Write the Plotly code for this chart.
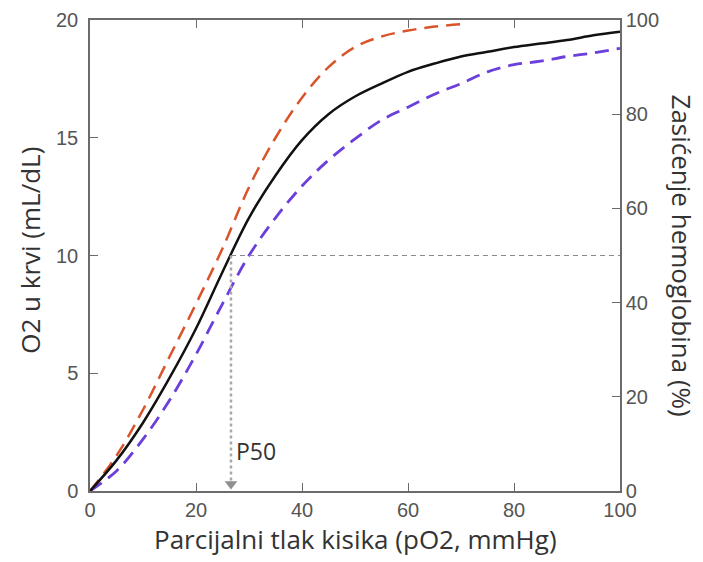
"""Oxygen-hemoglobin dissociation curve (Plotly)."""

import plotly.graph_objects as go

# ── Data ────────────────────────────────────────────────────────────

po2 = [0, 5, 10, 15, 20, 25, 30, 35, 40, 45, 50, 55, 60, 65, 70, 75, 80, 85, 90, 95, 100]
o2_normal = [0, 1.3, 2.9, 4.8, 6.9, 9.3, 11.6, 13.4, 14.9, 16.0, 16.75, 17.3, 17.8,
             18.15, 18.45, 18.65, 18.85, 19.0, 19.15, 19.35, 19.5]

po2_left = [0, 5, 10, 15, 20, 25, 30, 35, 40, 45, 50, 55, 60, 65, 70]
o2_left = [0, 1.5, 3.45, 5.7, 7.95, 10.3, 12.9, 15.0, 16.7, 18.0, 18.85, 19.3, 19.55, 19.72, 19.82]

o2_right = [0, 0.85, 2.2, 3.85, 5.8, 7.95, 10.0, 11.6, 12.95, 14.05, 14.95, 15.75, 16.3,
            16.85, 17.3, 17.8, 18.1, 18.25, 18.45, 18.6, 18.8]

p50 = 26.6
half_o2 = 10

x_ticks = [0, 20, 40, 60, 80, 100]
y_ticks = [0, 5, 10, 15, 20]
y2_ticks = [0, 20, 40, 60, 80, 100]

# ── Style ───────────────────────────────────────────────────────────

AXIS = "#6b6b6b"
TICK_FONT = dict(family="Liberation Sans, Arial, sans-serif", size=20, color="#555555")
TITLE_FONT = dict(family="Open Sans, Noto Sans, sans-serif", size=26, color="#333333")

fig = go.Figure()

fig.add_trace(go.Scatter(
    x=po2_left, y=o2_left, mode="lines",
    line=dict(color="#D9542B", width=2.5, dash="14px,8px", shape="spline"),
    showlegend=False,
))
fig.add_trace(go.Scatter(
    x=po2, y=o2_right, mode="lines",
    line=dict(color="#6B3FDB", width=2.8, dash="14px,8px", shape="spline"),
    showlegend=False,
))
fig.add_trace(go.Scatter(
    x=po2, y=o2_normal, mode="lines",
    line=dict(color="#111111", width=2.5, shape="spline"),
    showlegend=False,
))

# P50 guides
fig.add_trace(go.Scatter(
    x=[p50, 100], y=[half_o2, half_o2], mode="lines",
    line=dict(color="#8a8a8a", width=1, dash="5px,4px"),
    showlegend=False,
))
fig.add_trace(go.Scatter(
    x=[p50, p50], y=[half_o2, 0.35], mode="lines",
    line=dict(color="#a8a8a8", width=2.5, dash="3px,3px"),
    showlegend=False,
))
fig.add_trace(go.Scatter(
    x=[p50], y=[0.3], mode="markers",
    marker=dict(symbol="triangle-down", size=11, color="#8f8f8f"),
    showlegend=False,
))
fig.add_trace(go.Scatter(x=[0], y=[0], yaxis="y2", mode="markers",
                         marker=dict(opacity=0), showlegend=False, hoverinfo="skip"))

fig.add_annotation(
    x=p50, y=1.7, xref="x", yref="y", text="P50", showarrow=False,
    xanchor="left", xshift=3, font=dict(family="Open Sans, sans-serif", size=23, color="#333333"),
)

# Axis titles
fig.add_annotation(
    x=0.5, y=0, xref="x domain", yref="y domain", yshift=-48,
    xanchor="center", yanchor="middle",
    text="Parcijalni tlak kisika (pO2, mmHg)", showarrow=False, font=TITLE_FONT,
)
fig.add_annotation(
    x=0, y=0.51, xref="x domain", yref="y domain", text="O2 u krvi (mL/dL)",
    xanchor="center", yanchor="middle",
    showarrow=False, textangle=-90, xshift=-60, font=TITLE_FONT,
)
fig.add_annotation(
    x=1, y=0.5, xref="x domain", yref="y domain", text="Zasićenje hemoglobina (%)",
    xanchor="center", yanchor="middle",
    showarrow=False, textangle=90, xshift=62, font=TITLE_FONT,
)

fig.update_layout(
    width=703, height=562,
    margin=dict(l=82, r=91, t=12, b=79, autoexpand=False),
    paper_bgcolor="white", plot_bgcolor="white",
    xaxis=dict(
        range=[0, 100], tickvals=x_ticks, ticks="inside", ticklen=8, tickcolor=AXIS,
        showline=True, linecolor=AXIS, linewidth=1.5, mirror="ticks", automargin=False,
        showgrid=False, zeroline=False, tickfont=TICK_FONT,
    ),
    yaxis=dict(
        range=[0, 20], tickvals=y_ticks, ticks="inside", ticklen=8, tickcolor=AXIS,
        showline=True, linecolor=AXIS, linewidth=1.5, automargin=False,
        ticklabelstandoff=6,
        showgrid=False, zeroline=False, tickfont=TICK_FONT,
    ),
    yaxis2=dict(
        range=[0, 100], tickvals=y2_ticks, ticks="inside", ticklen=8, tickcolor=AXIS,
        showline=True, linecolor=AXIS, linewidth=1.5, automargin=False,
        overlaying="y", side="right", anchor="x",
        showgrid=False, zeroline=False, tickfont=TICK_FONT,
    ),
)

fig.write_html("out.html")
